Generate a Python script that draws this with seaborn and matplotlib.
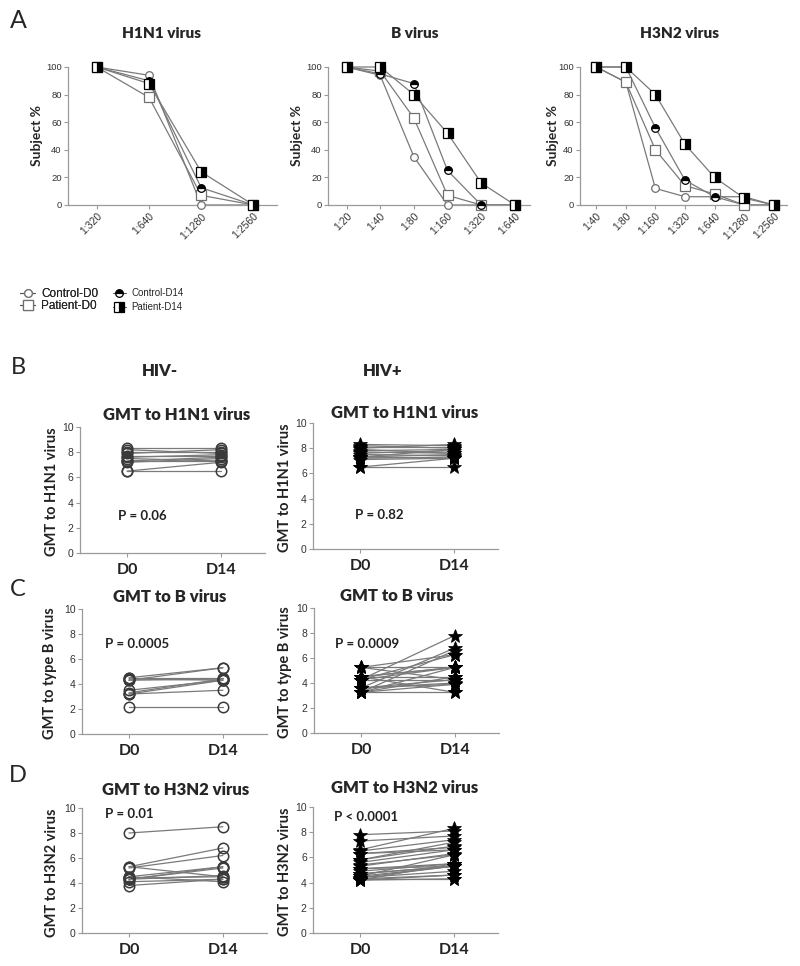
import numpy as np
import pandas as pd
import matplotlib
matplotlib.use("Agg")
import matplotlib.pyplot as plt
import seaborn as sns
from matplotlib.lines import Line2D

# ---------------- data: panel A (percent of subjects reaching titer) ----------------
h1n1_dilutions = ["1:320", "1:640", "1:1280", "1:2560"]
h1n1_control_d0 = [100, 94, 0, 0]
h1n1_patient_d0 = [100, 78, 7, 0]
h1n1_control_d14 = [100, 90, 12.5, 0]
h1n1_patient_d14 = [100, 88, 24, 0]

b_dilutions = ["1:20", "1:40", "1:80", "1:160", "1:320", "1:640"]
b_control_d0 = [100, 94, 35, 0, 0, 0]
b_patient_d0 = [100, 97, 63, 7, 0, 0]
b_control_d14 = [100, 95, 88, 25, 0, 0]
b_patient_d14 = [100, 100, 80, 52, 16, 0]

h3n2_dilutions = ["1:40", "1:80", "1:160", "1:320", "1:640", "1:1280", "1:2560"]
h3n2_control_d0 = [100, 89, 12, 6, 6, 0, 0]
h3n2_patient_d0 = [100, 89, 40, 14, 8, 0, 0]
h3n2_control_d14 = [100, 100, 56, 18, 6, 6, 0]
h3n2_patient_d14 = [100, 100, 80, 44, 20, 5, 0]

# ---------------- data: panels B-D (paired GMT, log2) ----------------
days = ["D0", "D14"]

h1n1_neg_d0 = [8.3, 8.2, 8.0, 7.9, 7.7, 7.6, 7.5, 7.3, 7.3, 7.2, 6.5, 6.5]
h1n1_neg_d14 = [8.3, 7.9, 8.0, 8.2, 7.7, 7.8, 7.3, 7.6, 7.3, 7.5, 6.5, 7.2]
h1n1_pos_d0 = [8.3, 8.2, 8.0, 7.9, 7.8, 7.6, 7.5, 7.3, 7.3, 7.2, 7.1, 7.3, 8.1, 7.7, 6.5, 6.5]
h1n1_pos_d14 = [8.2, 8.0, 8.3, 7.6, 7.9, 7.8, 7.4, 7.5, 7.2, 7.3, 7.2, 7.9, 8.1, 7.6, 6.5, 7.2]

b_neg_d0 = [2.2, 3.2, 3.2, 3.3, 3.5, 4.3, 4.3, 4.4, 4.5, 4.5]
b_neg_d14 = [2.2, 3.5, 4.3, 4.4, 4.3, 5.3, 4.4, 4.3, 5.3, 4.5]
b_pos_d0 = [5.25, 5.25, 4.5, 4.5, 4.27, 4.27, 4.27, 3.6, 3.6, 3.6,
            3.25, 3.25, 3.25, 3.25, 4.5, 3.6, 5.25, 4.27, 3.25, 4.5]
b_pos_d14 = [5.25, 6.27, 5.25, 4.5, 7.8, 4.27, 5.25, 6.8, 4.27, 3.9,
             6.6, 3.25, 4.5, 5.25, 3.25, 4.0, 4.27, 6.27, 3.9, 5.25]

h3n2_neg_d0 = [8.0, 5.3, 5.2, 5.3, 4.5, 4.3, 4.4, 4.1, 3.8, 4.3, 4.5, 4.3]
h3n2_neg_d14 = [8.5, 6.8, 6.2, 4.5, 5.3, 5.2, 4.5, 4.3, 4.3, 4.6, 4.1, 5.3]
h3n2_pos_d0 = [7.8, 7.3, 6.6, 6.3, 6.5, 5.8, 5.4, 5.6, 5.1, 5.3, 4.7, 4.9, 4.5,
               4.4, 4.3, 4.2, 4.2, 4.5, 4.3, 5.8, 6.3, 4.7, 4.4, 5.1, 4.2]
h3n2_pos_d14 = [8.1, 7.7, 8.3, 6.6, 7.4, 6.9, 6.2, 6.6, 5.5, 6.3, 5.3, 5.5, 5.3,
                4.9, 4.6, 4.3, 5.5, 6.2, 4.3, 7.2, 6.8, 5.3, 5.3, 5.3, 4.6]

p_values = {"h1n1_neg": "P = 0.06", "h1n1_pos": "P = 0.82",
            "b_neg": "P = 0.0005", "b_pos": "P = 0.0009",
            "h3n2_neg": "P = 0.01", "h3n2_pos": "P < 0.0001"}

# ---------------- style ----------------
sns.set_theme(style="ticks")
plt.rcParams["font.family"] = ["Lato", "DejaVu Sans"]
ARIAL = "Liberation Sans"
CALI = "Lato"

W, H = 800, 966
fig = plt.figure(figsize=(W / 100, H / 100), dpi=100)
fig.patch.set_facecolor("white")


def box(l, t, r, b):
    return [l / W, 1 - b / H, (r - l) / W, (b - t) / H]


def fx(px):
    return px / W


def fy(py):
    return 1 - py / H


def style_axis(ax):
    sns.despine(ax=ax)
    for s in ["left", "bottom"]:
        ax.spines[s].set_color("#9a9a9a")
        ax.spines[s].set_linewidth(0.9)
    ax.tick_params(axis="both", colors="#9a9a9a", length=3, width=0.8,
                   direction="out", labelcolor="#333333", pad=1.5)
    ax.set_facecolor("white")
    ax.set_xlabel("")
    ax.set_ylabel("")


LINE_C = "#7a7a7a"
series_style = {
    "Control-D0": dict(marker="o", ms=5.5, mfc="white", mec="#707070", mew=0.9, fillstyle="full"),
    "Patient-D0": dict(marker="s", ms=6.5, mfc="white", mec="#707070", mew=0.9, fillstyle="full"),
    "Control-D14": dict(marker="o", ms=5.5, mfc="black", mec="black", mew=0.9,
                        fillstyle="top", markerfacecoloralt="white"),
    "Patient-D14": dict(marker="s", ms=6.5, mfc="black", mec="black", mew=0.9,
                        fillstyle="right", markerfacecoloralt="white"),
}

panelA = [
    ("H1N1 virus", h1n1_dilutions,
     [h1n1_control_d0, h1n1_patient_d0, h1n1_control_d14, h1n1_patient_d14],
     (68, 67, 277, 205), 37, 161),
    ("B virus", b_dilutions,
     [b_control_d0, b_patient_d0, b_control_d14, b_patient_d14],
     (328, 67, 530, 205), 297, 415),
    ("H3N2 virus", h3n2_dilutions,
     [h3n2_control_d0, h3n2_patient_d0, h3n2_control_d14, h3n2_patient_d14],
     (580, 67, 787, 205), 553, 680),
]
names = ["Control-D0", "Patient-D0", "Control-D14", "Patient-D14"]

for title, dils, series, (l, t, r, b), ylab_x, title_x in panelA:
    ax = fig.add_axes(box(l, t, r, b))
    xi = np.arange(len(dils))
    for vals in series:
        sns.lineplot(x=xi, y=vals, ax=ax, color=LINE_C, lw=0.9, zorder=2,
                     clip_on=False)
    for name, vals in zip(names, series):
        st = series_style[name]
        sns.lineplot(x=xi, y=vals, ax=ax, color=LINE_C, ls="none", zorder=3,
                     clip_on=False, **st)
    ax.set_xlim(-0.55, len(dils) - 1 + 0.45)
    ax.set_ylim(0, 100)
    ax.set_yticks([0, 20, 40, 60, 80, 100])
    ax.set_xticks(xi)
    ax.set_xticklabels(dils, rotation=45, ha="right", rotation_mode="anchor",
                       fontsize=7.5, fontfamily=ARIAL)
    for lab in ax.get_yticklabels():
        lab.set_fontsize(6.8)
        lab.set_fontfamily(ARIAL)
    style_axis(ax)
    fig.text(fx(title_x), fy(34), title, ha="center", va="center",
             fontsize=11, fontweight="heavy", fontfamily=CALI)
    fig.text(fx(ylab_x), fy(136), "Subject %", ha="center", va="center",
             rotation=90, fontsize=10, fontweight="bold", fontfamily=CALI)

fig.text(fx(18), fy(21), "A", ha="center", va="center", fontsize=18, fontfamily=CALI)

# legend
def handle(name):
    st = dict(series_style[name])
    return Line2D([0], [0], color="#555555", lw=0.8, **st)

leg1 = fig.legend([handle("Control-D0"), handle("Patient-D0")],
                  ["Control-D0", "Patient-D0"], loc="center left",
                  bbox_to_anchor=(fx(14), fy(300)), frameon=False,
                  handlelength=1.3, handletextpad=0.5, labelspacing=0.05,
                  borderpad=0, prop={"family": ARIAL, "size": 8.5})
fig.add_artist(leg1)
fig.legend([handle("Control-D14"), handle("Patient-D14")],
           ["Control-D14", "Patient-D14"], loc="center left",
           bbox_to_anchor=(fx(108), fy(300)), frameon=False,
           handlelength=1.3, handletextpad=0.6, labelspacing=0.4,
           borderpad=0, prop={"family": ARIAL, "size": 7})

# ---------------- panels B-D ----------------
paired = [
    ("h1n1_neg", "GMT to H1N1 virus", "GMT to H1N1 virus", h1n1_neg_d0, h1n1_neg_d14,
     (80, 427, 265, 553), 52, 177, 415, "o", (-0.1, 2.9)),
    ("h1n1_pos", "GMT to H1N1 virus", "GMT to H1N1 virus", h1n1_pos_d0, h1n1_pos_d14,
     (313, 423, 498, 549), 285, 405, 413, "*", (-0.05, 2.7)),
    ("b_neg", "GMT to B virus", "GMT to type B virus", b_neg_d0, b_neg_d14,
     (82, 609, 267, 734), 50, 170, 597, "o", (-0.26, 7.2)),
    ("b_pos", "GMT to B virus", "GMT to type B virus", b_pos_d0, b_pos_d14,
     (314, 608, 499, 733), 285, 397, 596, "*", (-0.28, 7.1)),
    ("h3n2_neg", "GMT to H3N2 virus", "GMT to H3N2 virus", h3n2_neg_d0, h3n2_neg_d14,
     (82, 808, 267, 933), 52, 176, 790, "o", (-0.26, 9.5)),
    ("h3n2_pos", "GMT to H3N2 virus", "GMT to H3N2 virus", h3n2_pos_d0, h3n2_pos_d14,
     (313, 807, 498, 933), 285, 405, 788, "*", (-0.28, 9.2)),
]

for key, title, ylab, d0, d14, (l, t, r, b), ylab_x, title_x, title_y, mk, ppos in paired:
    ax = fig.add_axes(box(l, t, r, b))
    n = len(d0)
    df = pd.DataFrame({
        "id": list(range(n)) * 2,
        "day": [0] * n + [1] * n,
        "value": list(d0) + list(d14),
    })
    sns.lineplot(data=df, x="day", y="value", units="id", estimator=None,
                 ax=ax, color=LINE_C, lw=0.9, zorder=2)
    if mk == "o":
        mst = dict(marker="o", ms=7.5, mfc="none", mec="#3a3a3a", mew=1.1)
    else:
        mst = dict(marker="*", ms=10, mfc="black", mec="black", mew=0.5)
    sns.lineplot(data=df, x="day", y="value", units="id", estimator=None,
                 ax=ax, color=LINE_C, ls="none", zorder=3, clip_on=False, **mst)
    ax.set_xlim(-0.5, 1.47)
    ax.set_ylim(0, 10)
    ax.set_yticks([0, 2, 4, 6, 8, 10])
    ax.set_xticks([0, 1])
    ax.set_xticklabels(days, fontsize=11.5, fontfamily=CALI, color="#222222",
                       fontweight="bold")
    for lab in ax.get_yticklabels():
        lab.set_fontsize(7.5)
        lab.set_fontfamily(ARIAL)
    style_axis(ax)
    ax.tick_params(axis="x", labelcolor="#222222", pad=4)
    ax.text(ppos[0], ppos[1], p_values[key], ha="left", va="center",
            fontsize=9.5, fontfamily=CALI, color="#222222", fontweight="bold")
    fig.text(fx(title_x), fy(title_y), title, ha="center", va="center",
             fontsize=12, fontweight="heavy", fontfamily=CALI)
    fig.text(fx(ylab_x), fy((t + b) / 2 + 2), ylab, ha="center", va="center",
             rotation=90, fontsize=10.5, fontfamily=CALI, color="#222222",
             fontweight="bold")

fig.text(fx(18), fy(367), "B", ha="center", va="center", fontsize=17, fontfamily=CALI)
fig.text(fx(18), fy(590), "C", ha="center", va="center", fontsize=17, fontfamily=CALI)
fig.text(fx(18), fy(776), "D", ha="center", va="center", fontsize=17, fontfamily=CALI)
fig.text(fx(160), fy(371), "HIV-", ha="center", va="center", fontsize=12,
         fontweight="heavy", fontfamily=CALI)
fig.text(fx(383), fy(371), "HIV+", ha="center", va="center", fontsize=12,
         fontweight="heavy", fontfamily=CALI)

fig.savefig("out.png", dpi=100, facecolor="white")
